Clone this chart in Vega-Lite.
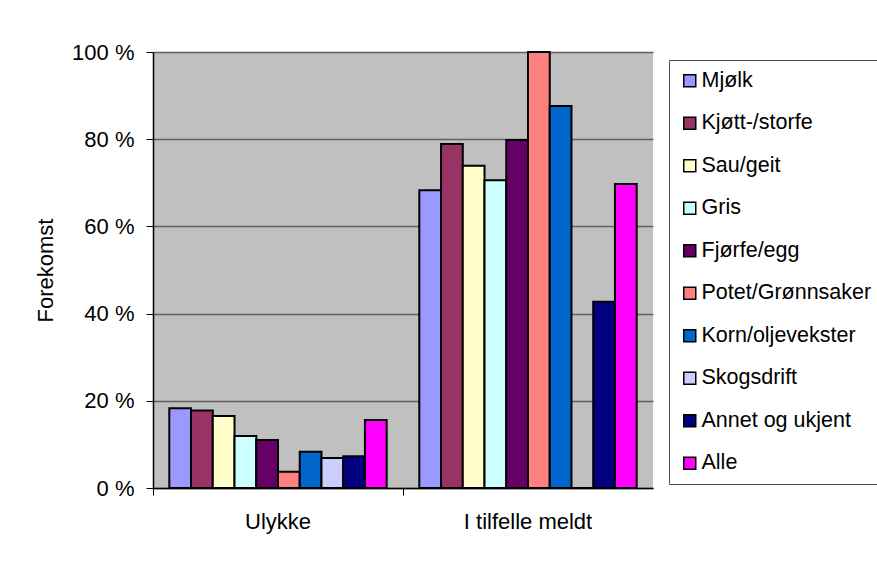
{
  "$schema": "https://vega.github.io/schema/vega-lite/v6.json",
  "width": 500,
  "height": 436,
  "autosize": {"type": "none"},
  "padding": {"left": 153, "top": 52, "right": 224, "bottom": 75},
  "background": "white",
  "config": {
    "font": "Liberation Sans",
    "view": {"fill": "#C0C0C0", "stroke": null},
    "axis": {"labelFont": "Liberation Sans", "titleFont": "Liberation Sans", "labelColor": "black", "titleColor": "black"},
    "legend": {"strokeColor": "#505050", "fillColor": "white"}
  },
  "data": {
    "values": [
      {"kat": "Ulykke", "type": "Mjølk", "v": 18.3},
      {"kat": "Ulykke", "type": "Kjøtt-/storfe", "v": 17.8},
      {"kat": "Ulykke", "type": "Sau/geit", "v": 16.5},
      {"kat": "Ulykke", "type": "Gris", "v": 11.9},
      {"kat": "Ulykke", "type": "Fjørfe/egg", "v": 11.0},
      {"kat": "Ulykke", "type": "Potet/Grønnsaker", "v": 3.7},
      {"kat": "Ulykke", "type": "Korn/oljevekster", "v": 8.3},
      {"kat": "Ulykke", "type": "Skogsdrift", "v": 6.9},
      {"kat": "Ulykke", "type": "Annet og ukjent", "v": 7.3},
      {"kat": "Ulykke", "type": "Alle", "v": 15.6},
      {"kat": "I tilfelle meldt", "type": "Mjølk", "v": 68.3},
      {"kat": "I tilfelle meldt", "type": "Kjøtt-/storfe", "v": 78.9},
      {"kat": "I tilfelle meldt", "type": "Sau/geit", "v": 73.9},
      {"kat": "I tilfelle meldt", "type": "Gris", "v": 70.6},
      {"kat": "I tilfelle meldt", "type": "Fjørfe/egg", "v": 79.8},
      {"kat": "I tilfelle meldt", "type": "Potet/Grønnsaker", "v": 100},
      {"kat": "I tilfelle meldt", "type": "Korn/oljevekster", "v": 87.6},
      {"kat": "I tilfelle meldt", "type": "Skogsdrift", "v": 0},
      {"kat": "I tilfelle meldt", "type": "Annet og ukjent", "v": 42.7},
      {"kat": "I tilfelle meldt", "type": "Alle", "v": 69.7}
    ]
  },
  "mark": {"type": "bar", "stroke": "black", "strokeWidth": 2},
  "encoding": {
    "x": {
      "field": "kat", "type": "nominal", "sort": ["Ulykke", "I tilfelle meldt"],
      "scale": {"paddingInner": 0, "paddingOuter": 0},
      "axis": {"title": null, "labelAngle": 0, "labelFontSize": 22, "labelPadding": 16, "bandPosition": 0, "tickColor": "black", "tickSize": 7, "tickWidth": 1, "domainColor": "black", "domainWidth": 1.5}
    },
    "xOffset": {
      "field": "type", "type": "nominal",
      "sort": ["Mjølk", "Kjøtt-/storfe", "Sau/geit", "Gris", "Fjørfe/egg", "Potet/Grønnsaker", "Korn/oljevekster", "Skogsdrift", "Annet og ukjent", "Alle"],
      "scale": {"paddingInner": 0, "paddingOuter": 0.75}
    },
    "y": {
      "field": "v", "type": "quantitative",
      "scale": {"domain": [0, 100], "nice": false},
      "axis": {"title": "Forekomst", "titleFontSize": 22, "titleFontWeight": "normal", "titlePadding": 14, "values": [0, 20, 40, 60, 80, 100], "labelExpr": "datum.value + ' %'", "labelFontSize": 22, "labelPadding": 12, "tickColor": "black", "tickSize": 7, "tickWidth": 1, "domainColor": "black", "domainWidth": 1.5, "grid": true, "gridColor": "#606060", "gridWidth": 1.5}
    },
    "fill": {
      "field": "type", "type": "nominal",
      "sort": ["Mjølk", "Kjøtt-/storfe", "Sau/geit", "Gris", "Fjørfe/egg", "Potet/Grønnsaker", "Korn/oljevekster", "Skogsdrift", "Annet og ukjent", "Alle"],
      "scale": {
        "domain": ["Mjølk", "Kjøtt-/storfe", "Sau/geit", "Gris", "Fjørfe/egg", "Potet/Grønnsaker", "Korn/oljevekster", "Skogsdrift", "Annet og ukjent", "Alle"],
        "range": ["#9999FF", "#993366", "#FFFFCC", "#CCFFFF", "#660066", "#FF8080", "#0066CC", "#CCCCFF", "#000080", "#FF00FF"]
      },
      "legend": {
        "title": null, "orient": "none", "legendX": 516, "legendY": 8,
        "padding": 10, "strokeColor": "#505050", "fillColor": "white",
        "symbolType": "square", "symbolSize": 144, "symbolStrokeColor": "black", "symbolStrokeWidth": 1.5,
        "labelFontSize": 21.5, "labelFont": "Liberation Sans", "labelColor": "black", "labelOffset": 1, "rowPadding": 19.5, "labelLimit": 300
      }
    }
  }
}
